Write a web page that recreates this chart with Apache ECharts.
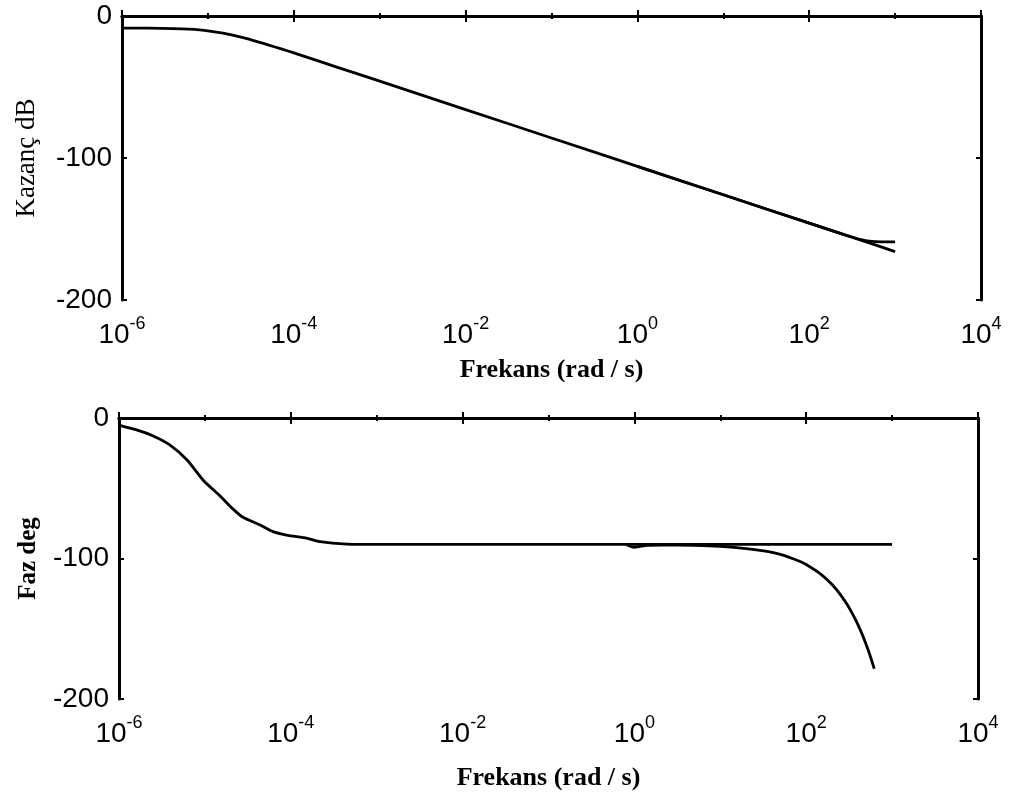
<!DOCTYPE html>
<html>
<head>
<meta charset="utf-8">
<script src="https://cdn.jsdelivr.net/npm/echarts@6/dist/echarts.min.js"></script>
<style>
  html, body { margin: 0; padding: 0; background: #ffffff; }
  #chart { width: 1009px; height: 803px; }
</style>
</head>
<body>
<div id="chart"></div>
<script>
// Bode diagram: gain (dB) and phase (deg) against frequency (rad/s)

// gain of the main response: frequency (rad/s) and gain (dB)
const freqGain = [1e-6, 2e-6, 4e-6, 6e-6, 8e-6, 1e-5, 1.5e-5, 2e-5, 3e-5, 5e-5, 7e-5,
                  1e-4, 2e-4, 5e-4, 1e-3, 1e-2, 1e-1, 1, 10, 100, 400, 1000];
const gainMain = [-8.5, -8.6, -8.9, -9.3, -9.8, -10.4, -12.0, -13.6, -16.3, -20.3, -23.0,
                  -26.0, -32.0, -39.9, -45.9, -65.9, -85.9, -105.9, -125.9, -145.9, -157.9, -165.9];

// phase of the main response: frequency (rad/s) and phase (deg)
const freqPhase = [1e-6, 1.6e-6, 2.5e-6, 3.9e-6, 6.2e-6, 9.5e-6, 1.5e-5, 2.1e-5, 2.75e-5,
                   4.4e-5, 6.2e-5, 8.9e-5, 1.55e-4, 2.2e-4, 4.5e-4, 1e-3, 1e-2, 1e-1, 1, 10, 100, 1000];
const phaseMain = [-5, -8.5, -12.8, -19.2, -29.9, -44.1, -55.5, -64.5, -70.5,
                   -76.2, -80.9, -83.3, -85.6, -88, -89.7, -90, -90, -90, -90, -90, -90, -90];

// second response (with dead time): gain branch
const freqGainDelay = [1, 10, 100, 200, 300, 400, 500, 700, 1000];
const gainDelay = [-105.9, -125.9, -145.9, -151.9, -155.3, -157.5, -158.6, -159.0, -159.0];

// second response: phase branch
const freqPhaseDelay = [0.8, 1, 1.4, 2, 5, 10, 20, 35, 50, 85, 100, 150, 200, 250,
                        300, 350, 400, 450, 500, 550, 620];
const phaseDelay = [-90, -92, -90.6, -90.4, -90.7, -91.4, -92.9, -95, -97.1, -102.1, -104.3,
                    -111.4, -118.5, -125.7, -132.8, -140, -147, -154.2, -161.4, -168.5, -178.5];

// axis ranges and labels
const freqMin = 1e-6, freqMax = 1e4;
const yMin = -200, yMax = 0, yStep = 100;
const gainTitle = 'Kazanç dB';
const phaseTitle = 'Faz deg';
const freqTitle = 'Frekans (rad / s)';

const zip = (xs, ys) => xs.map((x, i) => [x, ys[i]]);

const ink = '#000000';
const sansFont = '"Liberation Sans", Arial, sans-serif';
const serifFont = '"Liberation Serif", "Times New Roman", serif';

function powerLabel(v) {
  const e = Math.round(Math.log10(v));
  return '{b|10}{s|' + e + '}';
}

const grids = [
  { left: 122, top: 16, width: 859, height: 284 },
  { left: 119, top: 418, width: 859, height: 281 }
];

// log axes: interval counts decades (exponent steps)
function xAxesFor(gridIndex, nameGap) {
  const common = {
    type: 'log', logBase: 10, min: freqMin, max: freqMax, gridIndex: gridIndex,
    splitLine: { show: false }, minorTick: { show: false }
  };
  return [
    Object.assign({}, common, {
      position: 'bottom', interval: 2,
      axisLine: { show: true, lineStyle: { color: ink, width: 3 } },
      axisTick: { show: true, inside: true, length: 6, lineStyle: { color: ink, width: 2 } },
      axisLabel: {
        show: true, margin: 15, formatter: powerLabel, showMinLabel: true, showMaxLabel: true,
        rich: {
          b: { fontFamily: sansFont, fontSize: 28, color: ink, lineHeight: 40 },
          s: { fontFamily: sansFont, fontSize: 18, color: ink, lineHeight: 17, verticalAlign: 'top' }
        }
      },
      name: freqTitle, nameLocation: 'middle', nameGap: nameGap,
      nameTextStyle: { fontFamily: serifFont, fontSize: 26, fontWeight: 'bold', color: ink }
    }),
    Object.assign({}, common, {
      position: 'bottom', interval: 1,
      axisLine: { show: false },
      axisTick: { show: true, inside: true, length: 3, lineStyle: { color: ink, width: 2 } },
      axisLabel: { show: false }
    }),
    Object.assign({}, common, {
      position: 'top', interval: 2,
      axisLine: { show: true, lineStyle: { color: ink, width: 3 } },
      axisTick: { show: true, inside: true, length: 6, lineStyle: { color: ink, width: 2 } },
      axisLabel: { show: false }
    }),
    Object.assign({}, common, {
      position: 'top', interval: 1,
      axisLine: { show: false },
      axisTick: { show: true, inside: true, length: 3, lineStyle: { color: ink, width: 2 } },
      axisLabel: { show: false }
    })
  ];
}

function yAxesFor(gridIndex, title, nameGap, weight, size) {
  const common = {
    type: 'value', min: yMin, max: yMax, interval: yStep, gridIndex: gridIndex,
    splitLine: { show: false },
    axisLine: { show: true, lineStyle: { color: ink, width: 3 } },
    axisTick: { show: true, inside: true, length: 5, lineStyle: { color: ink, width: 2 } }
  };
  return [
    Object.assign({}, common, {
      position: 'left',
      axisLabel: { show: true, margin: 10, fontFamily: sansFont, fontSize: 28, color: ink },
      name: title, nameLocation: 'middle', nameGap: nameGap, nameRotate: 90,
      nameTextStyle: { fontFamily: serifFont, fontSize: size, fontWeight: weight, color: ink }
    }),
    Object.assign({}, common, {
      position: 'right',
      axisLabel: { show: false }
    })
  ];
}

const lineStyle = { color: ink, width: 2.8 };
function curve(name, data, xi, yi) {
  return {
    name: name, type: 'line', xAxisIndex: xi, yAxisIndex: yi,
    data: data, showSymbol: false, symbol: 'none', smooth: 0.25,
    lineStyle: lineStyle, animation: false
  };
}

const option = {
  backgroundColor: '#ffffff',
  animation: false,
  grid: grids,
  xAxis: xAxesFor(0, 57).concat(xAxesFor(1, 66)),
  yAxis: yAxesFor(0, gainTitle, 82, 'normal', 27).concat(yAxesFor(1, phaseTitle, 78, 'bold', 25)),
  series: [
    curve('gain', zip(freqGain, gainMain), 0, 0),
    curve('gain2', zip(freqGainDelay, gainDelay), 0, 0),
    curve('phase', zip(freqPhase, phaseMain), 4, 2),
    curve('phase2', zip(freqPhaseDelay, phaseDelay), 4, 2)
  ]
};

const chart = echarts.init(document.getElementById('chart'), null, { renderer: 'canvas' });
chart.setOption(option);
</script>
</body>
</html>
